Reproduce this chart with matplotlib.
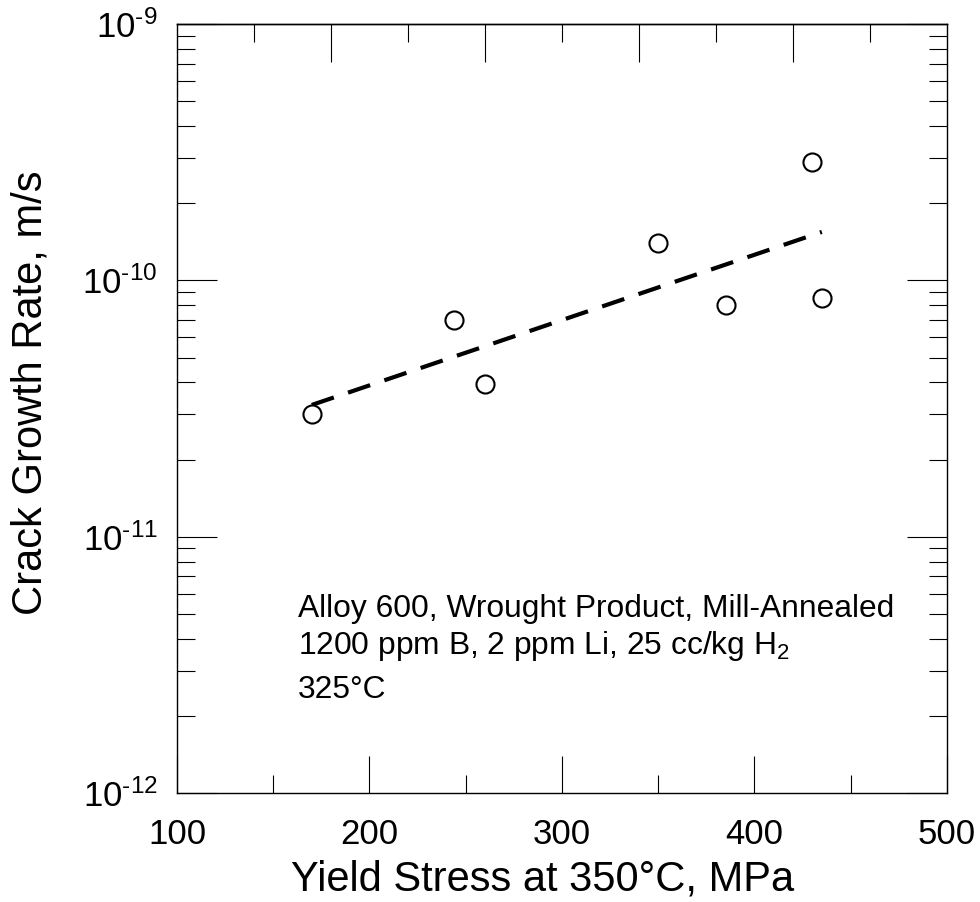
import numpy as np
import matplotlib
matplotlib.use('Agg')
import matplotlib.pyplot as plt
from matplotlib.ticker import MultipleLocator, FuncFormatter, NullFormatter, LogLocator

# data
yield_stress = [170, 244, 260, 350, 385, 430, 435]
growth_rate = [3.0e-11, 7.0e-11, 3.95e-11, 1.4e-10, 8.0e-11, 2.9e-10, 8.5e-11]

top_major = [180, 260, 340, 420]
top_minor = [140, 220, 300, 380, 460]

note_lines = ['Alloy 600, Wrought Product, Mill-Annealed',
              '1200 ppm B, 2 ppm Li, 25 cc/kg H$_2$',
              '325°C']

plt.rcParams['font.family'] = ['Liberation Sans', 'DejaVu Sans']
plt.rcParams['mathtext.fontset'] = 'custom'
plt.rcParams['mathtext.rm'] = 'Liberation Sans'
plt.rcParams['mathtext.it'] = 'Liberation Sans:italic'
plt.rcParams['mathtext.bf'] = 'Liberation Sans:bold'

fig = plt.figure(figsize=(9.8, 9.02), dpi=100)
ax = fig.add_axes([0.1806, 0.1208, 0.7857, 0.8525])
ax.set_yscale('log')
ax.set_xlim(100, 500)
ax.set_ylim(1e-12, 1e-9)

# least squares fit of log(rate) vs stress
coef = np.polyfit(yield_stress, np.log10(growth_rate), 1)
xfit = np.array([min(yield_stress), max(yield_stress)])
yfit = 10 ** np.polyval(coef, xfit)
ax.plot(xfit, yfit, color='black', lw=3, dashes=(5.6, 3.6), dash_capstyle='butt', zorder=2)

ax.plot(yield_stress, growth_rate, 'o', mfc='white', mec='black', ms=13, mew=1.5,
        linestyle='none', zorder=3)

for sp in ax.spines.values():
    sp.set_linewidth(1.0)


def decade_label(v, pos):
    e = int(round(np.log10(v)))
    return r'$10^{\text{-}%d}$' % abs(e) if e < 0 else r'$10^{%d}$' % e


ax.xaxis.set_major_locator(MultipleLocator(100))
ax.xaxis.set_minor_locator(MultipleLocator(50))
ax.yaxis.set_major_locator(LogLocator(base=10))
ax.yaxis.set_minor_locator(LogLocator(base=10, subs=np.arange(2, 10)))
ax.yaxis.set_major_formatter(FuncFormatter(decade_label))
ax.yaxis.set_minor_formatter(NullFormatter())

ax.tick_params(axis='x', which='major', direction='in', length=27, width=0.8,
               labelsize=25, pad=18, top=False)
ax.tick_params(axis='x', which='minor', direction='in', length=13, width=0.8, top=False)
ax.tick_params(axis='y', which='major', direction='in', length=29, width=0.8,
               labelsize=25, pad=14, right=True)
ax.tick_params(axis='y', which='minor', direction='in', length=13.3, width=0.8, right=True)

# top axis has its own tick spacing in the original
secax = ax.secondary_xaxis('top')
secax.set_xticks(top_major)
secax.set_xticks(top_minor, minor=True)
secax.xaxis.set_major_formatter(NullFormatter())
secax.tick_params(which='major', direction='in', length=27, width=0.8)
secax.tick_params(which='minor', direction='in', length=13, width=0.8)
secax.spines['top'].set_linewidth(1.0)

ax.set_xlabel('Yield Stress at 350°C, MPa', fontsize=30)
ax.xaxis.set_label_coords(0.475, -0.086)
ax.set_ylabel('Crack Growth Rate, m/s', fontsize=30)
ax.yaxis.set_label_coords(-0.164, 0.52)

ypos = [0.2289, 0.1808, 0.1235]
for txt, yy in zip(note_lines, ypos):
    ax.text(0.157, yy, txt, transform=ax.transAxes, fontsize=22.9, va='baseline')

fig.savefig('out.png', dpi=100)
